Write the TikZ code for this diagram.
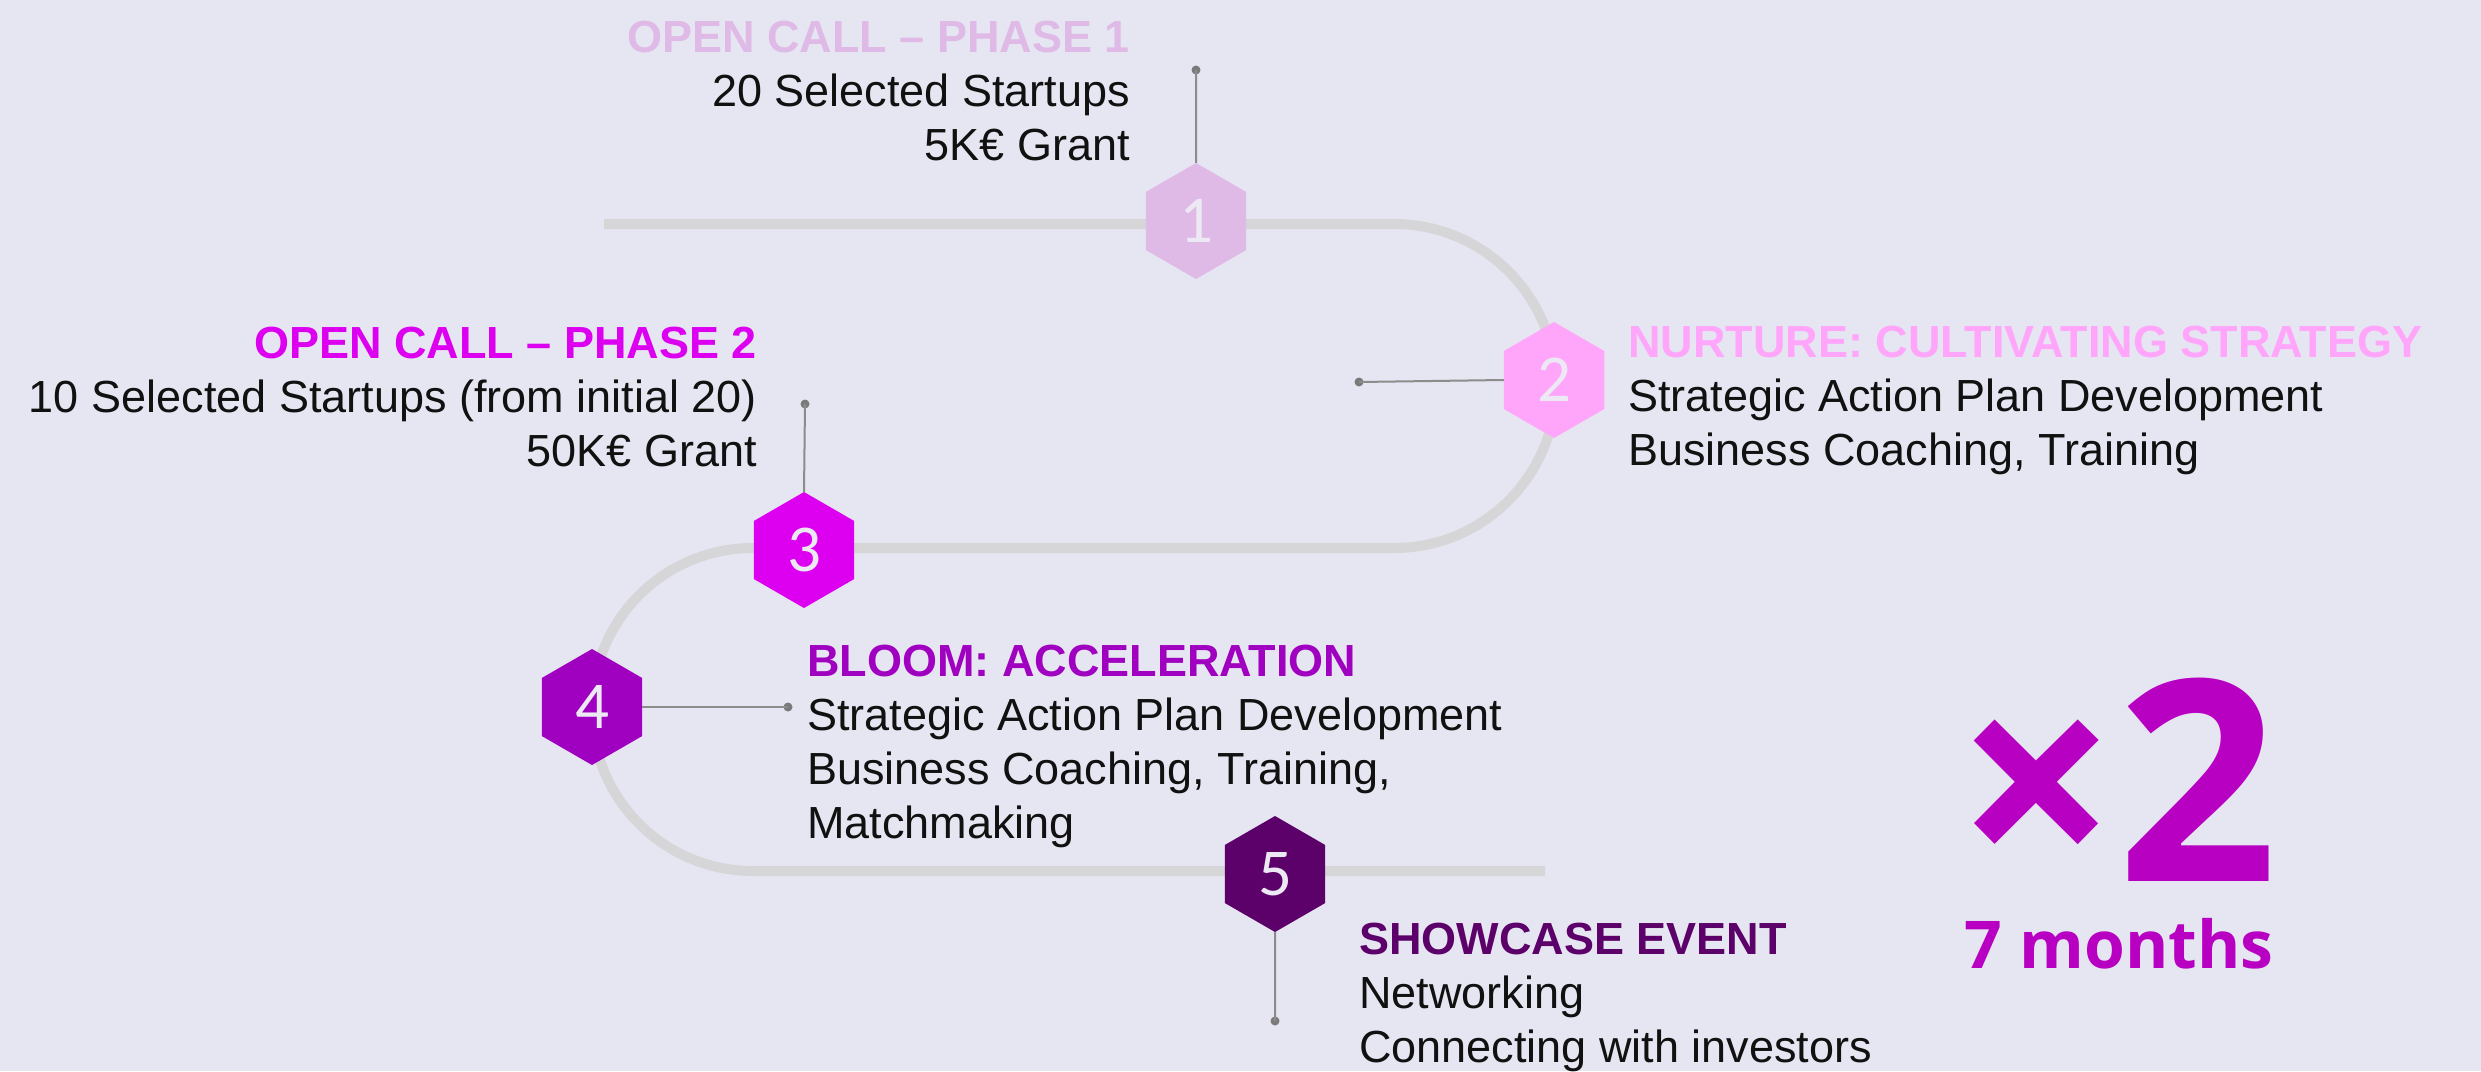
\documentclass[tikz,border=0pt]{standalone}
\usepackage{fontspec}
\setmainfont{Liberation Sans}
\newfontfamily\numfont{Carlito}
\newfontfamily\bigfont{Open Sans}
\usetikzlibrary{shapes.geometric}
\definecolor{bg}{HTML}{E6E6F2}
\definecolor{trackc}{HTML}{D6D6D9}
\definecolor{cA}{HTML}{E0BAE6}
\definecolor{cB}{HTML}{FFA6FA}
\definecolor{cC}{HTML}{DD00F0}
\definecolor{cD}{HTML}{A000C0}
\definecolor{cE}{HTML}{5C006A}
\definecolor{numc}{HTML}{ECE8F4}
\definecolor{conn}{HTML}{8C8C8C}
\definecolor{dotc}{HTML}{7A7A7A}
\definecolor{bigc}{HTML}{B800C2}
\definecolor{txtc}{HTML}{111111}
\newcommand{\txtfont}{\fontsize{45}{54}\selectfont}
\newcommand{\ttl}[2]{\textcolor{#1}{\bfseries #2}}
\tikzset{
  hexnode/.style={regular polygon, regular polygon sides=6, shape border rotate=30,
    minimum size=116pt, inner sep=0pt, outer sep=0pt, draw=none, fill=#1,
    text=numc, font=\numfont\fontsize{67}{67}\selectfont},
  trackline/.style={draw=trackc, line width=10pt},
  connline/.style={draw=conn, line width=2pt},
  enddot/.style={fill=dotc, circle, inner sep=0pt, minimum size=9pt},
  blocktext/.style={align=#1, font=\txtfont, text=txtc, inner sep=0pt},
}
\begin{document}
\begin{tikzpicture}[x=1pt,y=-1pt]
\fill[bg] (0,0) rectangle (2481,1071);
\useasboundingbox (0,0) rectangle (2481,1071);
% track
\coordinate (t0) at (604,224);
\coordinate (t1) at (1394,224);
\coordinate (t2) at (1394,548);
\coordinate (t3) at (753,548);
\coordinate (t4) at (753,871);
\coordinate (t5) at (1545,871);
\draw[trackline] (t0) -- (t1)
  .. controls (1483.5,224) and (1556,296.5) .. (1556,386)
  .. controls (1556,475.5) and (1483.5,548) .. (t2)
  -- (t3)
  .. controls (664,548) and (592,620) .. (592,709.5)
  .. controls (592,799) and (664,871) .. (t4)
  -- (t5);
% hexagons
\node[hexnode=cA] (h1) at (1196,221) {1};
\node[hexnode=cB] (h2) at (1554,380) {2};
\node[hexnode=cC] (h3) at (804,550) {3};
\node[hexnode=cD] (h4) at (592,707) {4};
\node[hexnode=cE] (h5) at (1275,874) {5};
% connector end points
\node[enddot] (d1) at (1196,70) {};
\node[enddot] (d2) at (1359,382) {};
\node[enddot] (d3) at (805,404) {};
\node[enddot] (d4) at (788,707) {};
\node[enddot] (d5) at (1275,1021) {};
\draw[connline] (h1.90) -- (d1.center);
\draw[connline] (h2.180) -- (d2.center);
\draw[connline] (h3.90) -- (d3.center);
\draw[connline] (h4.0) -- (d4.center);
\draw[connline] (h5.270) -- (d5.center);
% texts (base anchor = baseline of the last line)
\node[blocktext=right, anchor=base east] (b1) at (1130,160)
  {\ttl{cA}{OPEN CALL – PHASE 1}\\20 Selected Startups\\5K€ Grant};
\node[blocktext=left, anchor=base west] (b2) at (1628,465)
  {\ttl{cB}{NURTURE: CULTIVATING STRATEGY}\\Strategic Action Plan Development\\Business Coaching, Training};
\node[blocktext=right, anchor=base east] (b3) at (757,466)
  {\ttl{cC}{OPEN CALL – PHASE 2}\\10 Selected Startups (from initial 20)\\50K€ Grant};
\node[blocktext=left, anchor=base west] (b4) at (807,838)
  {\ttl{cD}{BLOOM: ACCELERATION}\\Strategic Action Plan Development\\Business Coaching, Training,\\Matchmaking};
\node[blocktext=left, anchor=base west] (b5) at (1359,1062)
  {\ttl{cE}{SHOWCASE EVENT}\\Networking\\Connecting with investors};
% x2
\node[anchor=base, inner sep=0pt, text=bigc, font=\bigfont\bfseries\fontsize{281}{281}\selectfont] (x2) at (2117,881) {×2};
\node[anchor=base, inner sep=0pt, text=bigc, font=\bigfont\bfseries\fontsize{66}{66}\selectfont] (m7) at (2119,968) {7 months};
\end{tikzpicture}
\end{document}
